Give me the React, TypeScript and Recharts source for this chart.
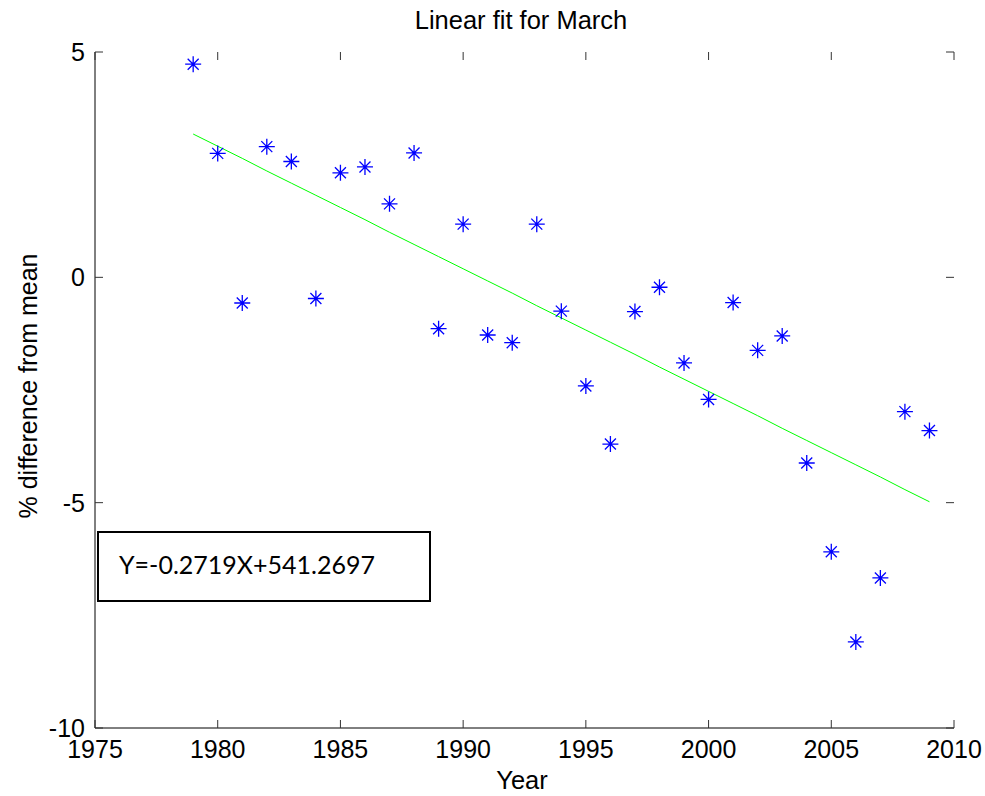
import {
    ComposedChart,
    Line,
    Scatter,
    XAxis,
    YAxis,
    Customized
} from "recharts";

// year axis and measured % difference from mean (March)
const years = [
    1979, 1980, 1981, 1982, 1983, 1984, 1985, 1986, 1987, 1988,
    1989, 1990, 1991, 1992, 1993, 1994, 1995, 1996, 1997, 1998,
    1999, 2000, 2001, 2002, 2003, 2004, 2005, 2006, 2007, 2008, 2009
];
const pctDiff = [
    4.73, 2.75, -0.57, 2.9, 2.57, -0.47, 2.32, 2.45, 1.63, 2.76,
    -1.14, 1.18, -1.28, -1.45, 1.18, -0.75, -2.41, -3.7, -0.76, -0.22,
    -1.9, -2.71, -0.56, -1.62, -1.3, -4.12, -6.09, -8.09, -6.67, -2.98, -3.4
];
// fitted line values
const fitValues = [
    3.18, 2.91, 2.64, 2.36, 2.09, 1.82, 1.55, 1.28, 1.0, 0.73,
    0.46, 0.19, -0.08, -0.35, -0.63, -0.9, -1.17, -1.44, -1.71, -1.99,
    -2.26, -2.53, -2.8, -3.07, -3.35, -3.62, -3.89, -4.16, -4.43, -4.71, -4.98
];
const xTicks = [1975, 1980, 1985, 1990, 1995, 2000, 2005, 2010];
const yTicks = [-10, -5, 0, 5];
const fitLabel = "Y=-0.2719X+541.2697";

const pointData = years.map((y, i) => ({ year: y, value: pctDiff[i] }));
const fitData = years.map((y, i) => ({ year: y, value: fitValues[i] }));

const W = 985;
const H = 796;
const PLOT_LEFT = 95;
const PLOT_RIGHT = 954;
const PLOT_TOP = 52;
const PLOT_BOTTOM = 728;
const TICK_LEN = 8;
const FONT = "'Liberation Sans', Arial, sans-serif";

function XTick(props: any) {
    const { x, payload } = props;
    return (
        <g>
            <line x1={x} x2={x} y1={PLOT_BOTTOM} y2={PLOT_BOTTOM - TICK_LEN} stroke="#333" />
            <line x1={x} x2={x} y1={PLOT_TOP} y2={PLOT_TOP + TICK_LEN} stroke="#333" />
            <text x={x} y={PLOT_BOTTOM + 30} textAnchor="middle" fontSize={25} fontFamily={FONT} fill="#000">
                {payload.value}
            </text>
        </g>
    );
}

function YTick(props: any) {
    const { y, payload } = props;
    return (
        <g>
            <line x1={PLOT_LEFT} x2={PLOT_LEFT + TICK_LEN} y1={y} y2={y} stroke="#333" />
            <line x1={PLOT_RIGHT} x2={PLOT_RIGHT - TICK_LEN} y1={y} y2={y} stroke="#333" />
            <text x={PLOT_LEFT - 10} y={y + 9} textAnchor="end" fontSize={25} fontFamily={FONT} fill="#000">
                {payload.value}
            </text>
        </g>
    );
}

function Asterisk(props: any) {
    const { cx, cy } = props;
    const a = 8; // + arms
    const d = 5.5; // x arms
    return (
        <path
            d={`M${cx - a},${cy}H${cx + a}M${cx},${cy - a}V${cy + a}` +
                `M${cx - d},${cy - d}L${cx + d},${cy + d}M${cx - d},${cy + d}L${cx + d},${cy - d}`}
            stroke="#0000ff"
            strokeWidth={1.3}
            fill="none"
        />
    );
}

function Annotations() {
    return (
        <g>
            <text x={521} y={29} textAnchor="middle" fontSize={25.5} fontFamily={FONT} fill="#000">
                Linear fit for March
            </text>
            <text x={522} y={789} textAnchor="middle" fontSize={25.5} fontFamily={FONT} fill="#000">
                Year
            </text>
            <text
                x={37}
                y={386}
                textAnchor="middle"
                fontSize={25}
                fontFamily={FONT}
                fill="#000"
                transform="rotate(-90 37 386)"
            >
                % difference from mean
            </text>
            <rect x={98} y={532} width={332} height={69} fill="#fff" stroke="#000" strokeWidth={2} />
            <text x={119} y={574} fontSize={25} fontFamily="Lato, 'Open Sans', sans-serif" fill="#000">
                {fitLabel}
            </text>
        </g>
    );
}

export default function App() {
    return (
        <div style={{ position: "absolute", left: 0, top: 0, width: W, height: H, background: "#fff" }}>
            <ComposedChart
                width={W}
                height={H}
                margin={{ top: PLOT_TOP, right: W - PLOT_RIGHT, bottom: 0, left: 0 }}
            >
                <XAxis
                    dataKey="year"
                    type="number"
                    domain={[1975, 2010]}
                    ticks={xTicks}
                    height={H - PLOT_BOTTOM}
                    tickLine={false}
                    tickSize={0}
                    axisLine={{ stroke: "#000" }}
                    tick={<XTick />}
                    allowDataOverflow
                />
                <XAxis
                    xAxisId="top"
                    orientation="top"
                    type="number"
                    domain={[1975, 2010]}
                    height={0}
                    tick={false}
                    tickLine={false}
                    axisLine={{ stroke: "#000" }}
                />
                <YAxis
                    dataKey="value"
                    type="number"
                    domain={[-10, 5]}
                    ticks={yTicks}
                    width={PLOT_LEFT}
                    tickLine={false}
                    tickSize={0}
                    axisLine={{ stroke: "#000" }}
                    tick={<YTick />}
                    allowDataOverflow
                />
                <YAxis
                    yAxisId="right"
                    orientation="right"
                    type="number"
                    domain={[-10, 5]}
                    width={0}
                    tick={false}
                    tickLine={false}
                    axisLine={{ stroke: "#000" }}
                />
                <Line
                    data={fitData}
                    dataKey="value"
                    type="linear"
                    stroke="#00ff00"
                    strokeWidth={1}
                    dot={false}
                    activeDot={false}
                    isAnimationActive={false}
                />
                <Scatter
                    data={pointData}
                    dataKey="value"
                    shape={<Asterisk />}
                    isAnimationActive={false}
                />
                <Customized component={<Annotations />} />
            </ComposedChart>
        </div>
    );
}
